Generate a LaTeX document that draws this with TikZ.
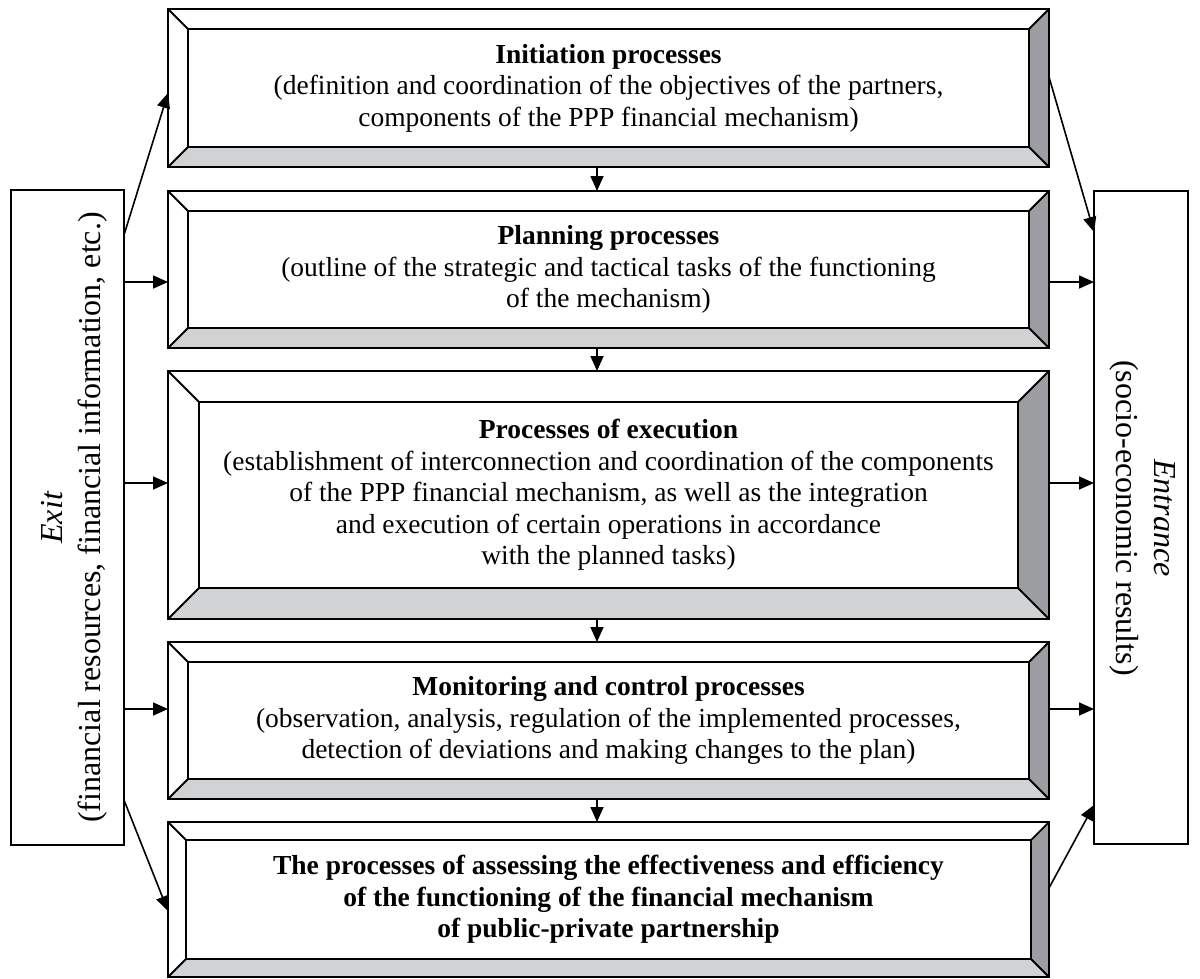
\documentclass[tikz,border=0pt]{standalone}
\usepackage{fontspec}
\setmainfont{Liberation Serif}
\usetikzlibrary{arrows.meta,calc}
\definecolor{darkbev}{HTML}{9C9DA1}
\definecolor{lightbev}{HTML}{D1D2D4}
\tikzset{
  edge/.style={line width=1.8pt},
  arr/.style={line width=1.6pt, -{Triangle[length=15pt,width=13pt]}},
  txt/.style={align=center, font=\fontsize{27.5}{31.5}\selectfont, inner sep=0},
  sidetxt/.style={align=center, font=\fontsize{32}{38}\selectfont, inner sep=0},
  sidebox/.style={draw, line width=1.8pt, inner sep=0, outer sep=0},
}
\newcommand\bevelbox[6]{%
  \pgfmathsetmacro\bevW{#4-#2}%
  \pgfmathsetmacro\bevH{#5-#3}%
  \pgfmathsetmacro\bevIW{#4-#2-2*#6}%
  \pgfmathsetmacro\bevIH{#5-#3-2*#6}%
  \fill[darkbev] (#4,#3) -- (#4,#5) -- ({#4-#6},{#5-#6}) -- ({#4-#6},{#3+#6}) -- cycle;
  \fill[lightbev] (#2,#5) -- (#4,#5) -- ({#4-#6},{#5-#6}) -- ({#2+#6},{#5-#6}) -- cycle;
  \node[draw, edge, inner sep=0, outer sep=0, minimum width=\bevW pt, minimum height=\bevH pt, anchor=north west] (#1) at (#2,#3) {};
  \node[draw, edge, inner sep=0, outer sep=0, minimum width=\bevIW pt, minimum height=\bevIH pt, anchor=north west] (#1i) at ({#2+#6},{#3+#6}) {};
  \draw[edge] (#1.north west) -- (#1i.north west)
              (#1.north east) -- (#1i.north east)
              (#1.south west) -- (#1i.south west)
              (#1.south east) -- (#1i.south east);
}
\begin{document}
\begin{tikzpicture}[x=1pt,y=-1pt]
\useasboundingbox (0,0) rectangle (1200,978);
\fill[white] (0,0) rectangle (1200,978);

\bevelbox{b1}{168}{9}{1049}{167}{20}
\bevelbox{b2}{168}{191}{1049}{348}{20}
\bevelbox{b3}{168}{371}{1049}{619}{31}
\bevelbox{b4}{168}{642}{1049}{799}{20}
\bevelbox{b5}{168}{822}{1049}{977}{18}

\node[txt] (t1) at (b1i) {\textbf{Initiation processes}\\(definition and coordination of the objectives of the partners,\\components of the PPP financial mechanism)};
\node[txt] (t2) at (b2i) {\textbf{Planning processes}\\(outline of the strategic and tactical tasks of the functioning\\of the mechanism)};
\node[txt] (t3) at (b3i) {\textbf{Processes of execution}\\(establishment of interconnection and coordination of the components\\of the PPP financial mechanism, as well as the integration\\and execution of certain operations in accordance\\with the planned tasks)};
\node[txt] (t4) at (b4i) {\textbf{Monitoring and control processes}\\(observation, analysis, regulation of the implemented processes,\\detection of deviations and making changes to the plan)};
\node[txt, font=\fontsize{27.5}{31.5}\selectfont\bfseries] (t5) at (b5i) {The processes of assessing the effectiveness and efficiency\\of the functioning of the financial mechanism\\of public-private partnership};

% side boxes
\node[sidebox, minimum width=113pt, minimum height=655pt] (exit) at (67.5,517.5) {};
\node[sidebox, minimum width=94pt, minimum height=653pt] (entr) at (1141,517.5) {};
\node[sidetxt, rotate=90] (exitt) at (74,517.5) {\textit{Exit}\\(financial resources, financial information, etc.)};
\node[sidetxt, rotate=-90] (entrt) at (1143,518) {\textit{Entrance}\\(socio-economic results)};

% vertical arrows between boxes
\coordinate (dx) at (597,0);
\draw[arr] (b1.south -| dx) -- (b2.north -| dx);
\draw[arr] (b2.south -| dx) -- (b3.north -| dx);
\draw[arr] (b3.south -| dx) -- (b4.north -| dx);
\draw[arr] (b4.south -| dx) -- (b5.north -| dx);

% from exit
\draw[arr] (exit.east |- 0,235) -- (b1.west |- 0,93);
\draw[arr] (exit.east |- 0,282) -- (b2.west |- 0,282);
\draw[arr] (exit.east |- 0,483) -- (b3.west |- 0,483);
\draw[arr] (exit.east |- 0,709) -- (b4.west |- 0,709);
\draw[arr] (exit.east |- 0,800) -- (b5.west |- 0,911);

% to entrance
\draw[arr] (b1.east |- 0,77) -- (entr.west |- 0,232);
\draw[arr] (b2.east |- 0,282) -- (entr.west |- 0,282);
\draw[arr] (b3.east |- 0,483) -- (entr.west |- 0,483);
\draw[arr] (b4.east |- 0,709) -- (entr.west |- 0,709);
\draw[arr] (b5.east |- 0,888) -- (entr.west |- 0,805);
\end{tikzpicture}
\end{document}
